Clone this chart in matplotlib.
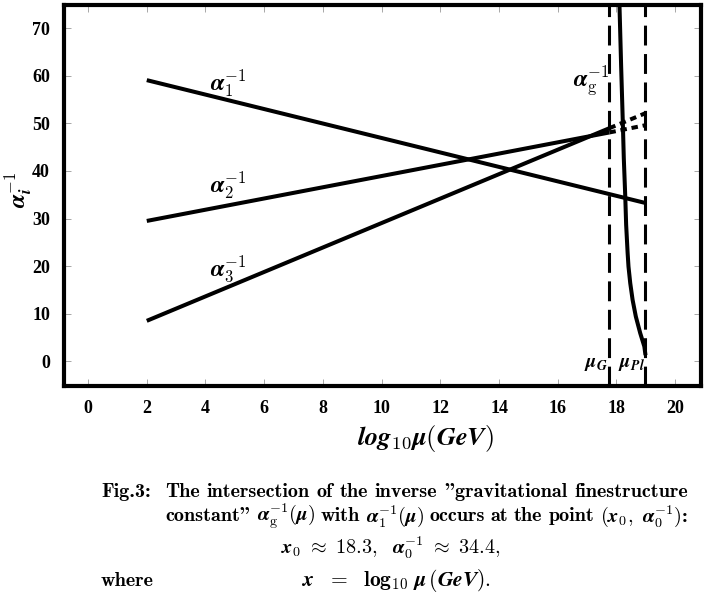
import matplotlib
matplotlib.use("Agg")
import matplotlib.pyplot as plt

plt.rcParams['mathtext.fontset'] = 'cm'
plt.rcParams['axes.unicode_minus'] = True

# ---- data ----
x_start = 2.0
mu_G = 17.76
mu_Pl = 18.97

a1_x = [x_start, mu_Pl]
a1_y = [59.1, 33.3]
a2_x = [x_start, mu_G]
a2_y = [29.5, 48.1]
a2_dot_x = [mu_G, mu_Pl]
a2_dot_y = [48.1, 49.6]
a3_x = [x_start, mu_G]
a3_y = [8.5, 49.0]
a3_dot_x = [mu_G, mu_Pl]
a3_dot_y = [49.0, 52.1]

g_x = [18.10, 18.16, 18.22, 18.25, 18.30, 18.33, 18.38, 18.41, 18.47, 18.55, 18.66, 18.81, 18.95, 18.98]
g_y = [75.5, 61.9, 49.5, 42.7, 34.6, 28.7, 22.8, 19.9, 16.4, 12.9, 9.4, 5.9, 3.1, 1.7]

x_ticks = [0, 2, 4, 6, 8, 10, 12, 14, 16, 18, 20]
y_ticks = [0, 10, 20, 30, 40, 50, 60, 70]

W, H = 708, 599

# ---- figure ----
fig = plt.figure(figsize=(W/100, H/100), dpi=100)
ax = fig.add_axes([64/W, 1-386/H, (701-64)/W, (386-4.5)/H])
ax.set_xlim(-0.82, 20.88)
ax.set_ylim(-5.2, 75.0)

lw = 2.9
ax.plot(a1_x, a1_y, color='black', lw=lw, solid_capstyle='butt')
ax.plot(a2_x, a2_y, color='black', lw=lw, solid_capstyle='butt')
ax.plot(a3_x, a3_y, color='black', lw=lw, solid_capstyle='butt')
ax.plot(a2_dot_x, a2_dot_y, color='black', lw=lw, dashes=(1.6, 1.2))
ax.plot(a3_dot_x, a3_dot_y, color='black', lw=lw, dashes=(1.6, 1.2))
ax.plot(g_x, g_y, color='black', lw=lw, solid_joinstyle='round')

ax.axvline(mu_G, color='black', lw=2.2, dashes=(6.5, 2.8))
ax.axvline(mu_Pl, color='black', lw=2.2, dashes=(6.5, 2.8))

for s in ax.spines.values():
    s.set_linewidth(3.0)

ax.set_xticks(x_ticks)
ax.set_yticks(y_ticks)
ax.tick_params(direction='in', length=5, width=0.6, color='#999999',
               top=True, right=True, pad=10)
for lab in ax.get_xticklabels() + ax.get_yticklabels():
    lab.set_fontfamily('Liberation Serif')
    lab.set_fontweight('bold')
    lab.set_fontsize(13)

fig.text(426/W, 1-438/H,
         r'$\boldsymbol{log}_{\mathbf{10}}\boldsymbol{\mu}\mathbf{(}\boldsymbol{GeV}\mathbf{)}$',
         fontsize=19, ha='center', va='center')
fig.text(18/W, 1-190/H, r'$\boldsymbol{\alpha}_{\boldsymbol{i}}^{\mathbf{-1}}$',
         fontsize=17, ha='center', va='center', rotation=90)

lab_fs = 17
ax.text(4.76, 58.4, r'$\boldsymbol{\alpha}_{\mathbf{1}}^{\mathbf{-1}}$', fontsize=lab_fs, ha='center', va='center')
ax.text(4.76, 37.0, r'$\boldsymbol{\alpha}_{\mathbf{2}}^{\mathbf{-1}}$', fontsize=lab_fs, ha='center', va='center')
ax.text(4.76, 19.5, r'$\boldsymbol{\alpha}_{\mathbf{3}}^{\mathbf{-1}}$', fontsize=lab_fs, ha='center', va='center')
ax.text(17.15, 59.0, r'$\boldsymbol{\alpha}_{\mathrm{g}}^{\mathbf{-1}}$', fontsize=lab_fs, ha='center', va='center')
ax.text(17.30, -0.4, r'$\boldsymbol{\mu}_{\boldsymbol{G}}$', fontsize=14, ha='center', va='center')
ax.text(18.50, -0.4, r'$\boldsymbol{\mu}_{\boldsymbol{Pl}}$', fontsize=14, ha='center', va='center')

# ---- caption ----
cap_fs = 14.5
fam = ['cmb10', 'DejaVu Serif']
renderer = fig.canvas.get_renderer()


def justify(tokens, x0, x1, y):
    texts = [fig.text(0, 1-y/H, t, fontsize=cap_fs, family=fam, va='center', ha='left')
             for t in tokens]
    widths = [t.get_window_extent(renderer).width for t in texts]
    gap = (x1 - x0 - sum(widths)) / (len(tokens) - 1)
    x = x0
    for t, w in zip(texts, widths):
        t.set_x(x/W)
        x += w + gap


fig.text(101/W, 1-492/H, 'Fig.3:', fontsize=cap_fs, family=fam, va='center', ha='left')
justify(['The', 'intersection', 'of', 'the', 'inverse', '"gravitational', 'finestructure'],
        165, 688, 492)
justify(['constant"', r'$\boldsymbol{\alpha}_{\mathrm{g}}^{-1}(\boldsymbol{\mu})$', 'with',
         r'$\boldsymbol{\alpha}_{\mathbf{1}}^{-1}(\boldsymbol{\mu})$', 'occurs', 'at', 'the', 'point',
         r'$(\boldsymbol{x}_{\mathbf{0}},\ \boldsymbol{\alpha}_{\mathbf{0}}^{-1})$:'],
        165, 688, 516)
fig.text(281/W, 1-548/H,
         r'$\boldsymbol{x}_{\mathbf{0}}\ \approx\ \mathbf{18.3},\ \ \boldsymbol{\alpha}_{\mathbf{0}}^{-1}\ \approx\ \mathbf{34.4},$',
         fontsize=cap_fs, family=fam, va='center', ha='left')
fig.text(101/W, 1-581/H, 'where', fontsize=cap_fs, family=fam, va='center', ha='left')
fig.text(302/W, 1-581/H,
         r'$\boldsymbol{x}\ \ =\ \ \mathbf{log}_{\mathbf{10}}\ \boldsymbol{\mu}\,\mathbf{(}\boldsymbol{GeV}\mathbf{)}.$',
         fontsize=15.5, family=fam, va='center', ha='left')

fig.savefig('out.png', dpi=100)
